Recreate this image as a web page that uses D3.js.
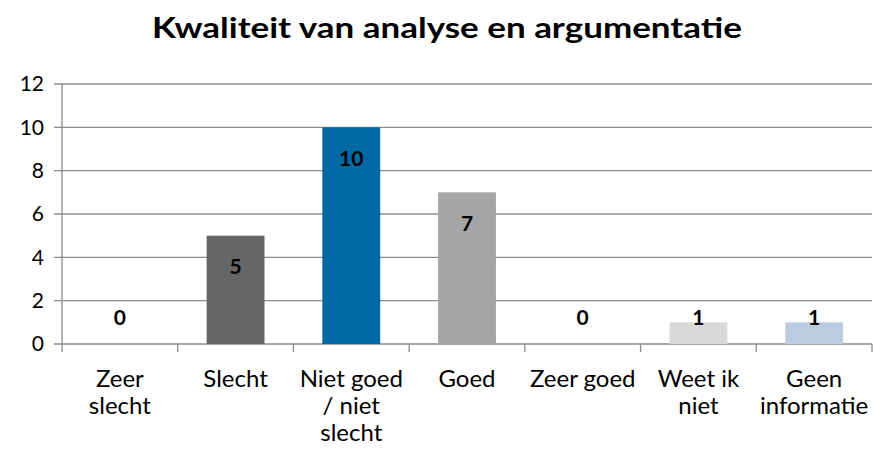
<!DOCTYPE html>
<html>
<head>
<meta charset="utf-8">
<script src="https://cdn.jsdelivr.net/npm/d3@7"></script>
<style>
  body { margin: 0; background: #fff; }
  text { font-family: Lato, "Open Sans", sans-serif; fill: #000; }
</style>
</head>
<body>
<script>
// chart data
var categories = [["Zeer", "slecht"], ["Slecht"], ["Niet goed", "/ niet", "slecht"], ["Goed"], ["Zeer goed"], ["Weet ik", "niet"], ["Geen", "informatie"]];
var values = [0, 5, 10, 7, 0, 1, 1];
var barColors = ["#666666", "#666666", "#0068A3", "#A6A6A6", "#A6A6A6", "#D9D9D9", "#BDCBE0"];
var yTicks = [0, 2, 4, 6, 8, 10, 12];
var title = "Kwaliteit van analyse en argumentatie";

var svgWidth = 873, svgHeight = 453;
var margin = { top: 84, right: 1, bottom: 109, left: 62 };
var width = svgWidth - margin.left - margin.right;
var height = svgHeight - margin.top - margin.bottom;

var svg = d3.select("body").append("svg")
  .attr("width", svgWidth)
  .attr("height", svgHeight);

svg.append("text")
  .attr("x", 447)
  .attr("y", 38)
  .attr("text-anchor", "middle")
  .attr("font-size", "29px")
  .attr("font-weight", "bold")
  .attr("textLength", 590)
  .attr("lengthAdjust", "spacingAndGlyphs")
  .text(title);

var chartGroup = svg.append("g")
  .attr("transform", `translate(${margin.left}, ${margin.top})`);

var idx = d3.range(values.length);
var x = d3.scaleBand().domain(idx).range([0, width]).paddingInner(0.5).paddingOuter(0.25);
var xTick = d3.scaleLinear().domain([0, values.length]).range([0, width]);
var y = d3.scaleLinear().domain([0, 12]).range([height, 0]);

// gridlines
chartGroup.selectAll(".grid")
  .data(yTicks)
  .enter().append("line")
  .attr("x1", -8).attr("x2", width)
  .attr("y1", d => y(d)).attr("y2", d => y(d))
  .attr("stroke", "#8c8c8c")
  .attr("stroke-width", 1.3);

// y axis line
chartGroup.append("line")
  .attr("x1", 0).attr("x2", 0)
  .attr("y1", 0).attr("y2", height)
  .attr("stroke", "#8c8c8c").attr("stroke-width", 1.3);

// category ticks
chartGroup.selectAll(".xtick")
  .data(d3.range(values.length + 1))
  .enter().append("line")
  .attr("x1", d => xTick(d)).attr("x2", d => xTick(d))
  .attr("y1", height).attr("y2", height + 8)
  .attr("stroke", "#8c8c8c").attr("stroke-width", 1.3);

// y labels
chartGroup.selectAll(".ylab")
  .data(yTicks)
  .enter().append("text")
  .attr("x", -18)
  .attr("y", d => y(d))
  .attr("dy", "0.35em")
  .attr("text-anchor", "end")
  .attr("font-size", "21px")
  .text(d => d);

// bars
chartGroup.selectAll("rect")
  .data(values)
  .enter().append("rect")
  .attr("x", (d, i) => x(i))
  .attr("y", d => y(d))
  .attr("width", x.bandwidth())
  .attr("height", d => height - y(d))
  .attr("fill", (d, i) => barColors[i]);

// value labels
chartGroup.selectAll(".val")
  .data(values)
  .enter().append("text")
  .attr("x", (d, i) => x(i) + x.bandwidth() / 2)
  .attr("y", d => Math.min(y(d) + 31, height - 26))
  .attr("dy", "0.35em")
  .attr("text-anchor", "middle")
  .attr("font-size", "21px")
  .attr("font-weight", "bold")
  .text(d => d);

// category labels
var catGroup = chartGroup.selectAll(".cat")
  .data(categories)
  .enter().append("text")
  .attr("text-anchor", "middle")
  .attr("font-size", "24px")
  .attr("transform", (d, i) => `translate(${x(i) + x.bandwidth() / 2}, ${height + 43})`);

catGroup.selectAll("tspan")
  .data(d => d)
  .enter().append("tspan")
  .attr("x", 0)
  .attr("y", (d, j) => j * 27)
  .text(d => d);
</script>
</body>
</html>
